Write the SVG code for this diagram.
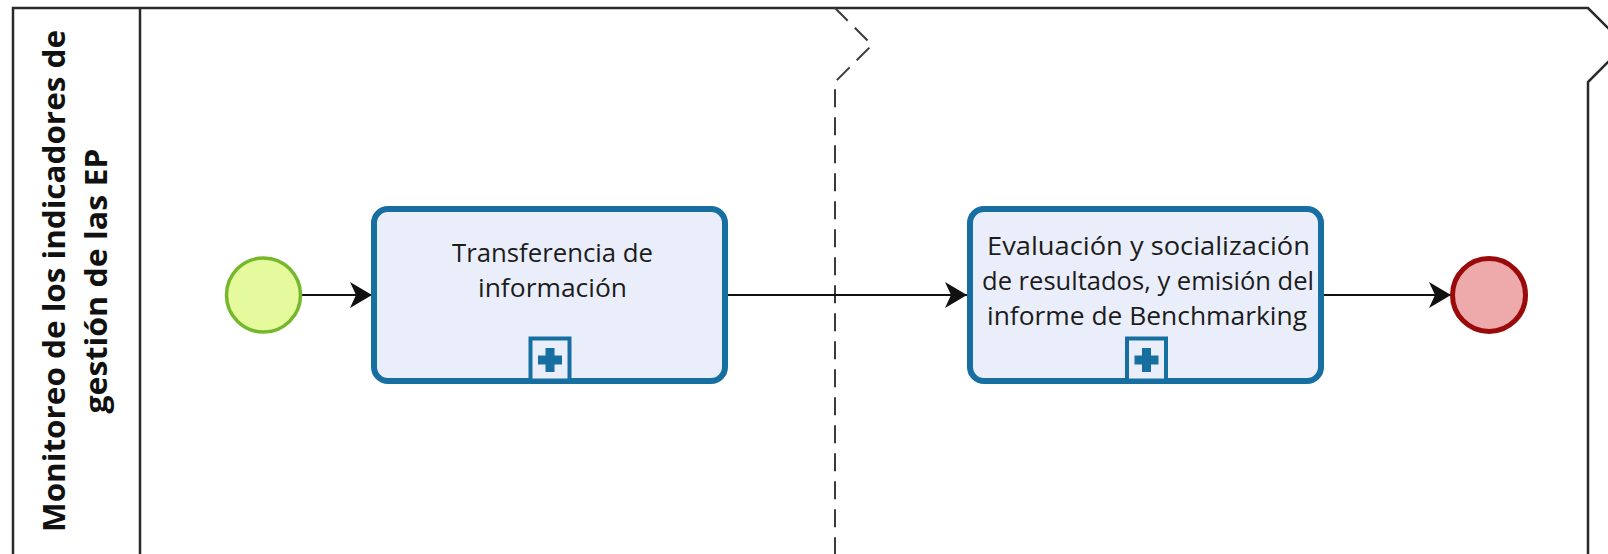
<svg xmlns="http://www.w3.org/2000/svg" width="1608" height="554" viewBox="0 0 1608 554">
<style>
.pool{fill:none;stroke:#2a2a2a;stroke-width:2.5}
.phase{fill:none;stroke:#3a3a3a;stroke-width:2;stroke-dasharray:18 10}
.task{fill:#eaeefb;stroke:#166fa0;stroke-width:6}
.sq{fill:#eaeefb;stroke:#166fa0;stroke-width:4}
.plus{fill:#166fa0}
.lbl{font-family:"Open Sans","Noto Sans",sans-serif;font-size:26px;fill:#1c1c1c;text-anchor:middle}
.lane{font-family:"Open Sans","Noto Sans",sans-serif;font-size:30px;font-weight:700;fill:#111;text-anchor:middle}
.flow{stroke:#111;stroke-width:2;fill:none;marker-end:url(#arr)}
</style>
<defs>
<marker id="arr" markerUnits="userSpaceOnUse" viewBox="0 0 22 28" refX="22" refY="14" markerWidth="22" markerHeight="28" orient="auto">
<path d="M0,1 L22,14 L0,27 L6,14 Z" fill="#111"/>
</marker>
</defs>
<rect x="0" y="0" width="1608" height="554" fill="#fff"/>
<g id="pool">
<path class="pool" d="M13,560 L13,8 L1588,8 L1625,45 L1588,82 L1588,560"/>
<line class="pool" x1="140" y1="8" x2="140" y2="560"/>
<path class="phase" d="M835,8 L872,45 L835,82 L835,560"/>
<g transform="translate(65,281) rotate(-90)">
<text class="lane" x="0" y="0" textLength="502" lengthAdjust="spacingAndGlyphs">Monitoreo de los indicadores de</text>
<text class="lane" x="0" y="42" textLength="265" lengthAdjust="spacingAndGlyphs">gestión de las EP</text>
</g>
</g>
<g id="connectors">
<line class="flow" x1="301" y1="295" x2="372" y2="295"/>
<line class="flow" x1="728" y1="295" x2="967" y2="295"/>
<line class="flow" x1="1324" y1="295" x2="1451" y2="295"/>
</g>
<g id="start">
<circle cx="263.5" cy="295" r="37" fill="#e4fa9c" stroke="#76b72d" stroke-width="3.5"/>
</g>
<g id="task1">
<rect class="task" x="374" y="209" width="351" height="172" rx="14"/>
<text class="lbl" x="552.5" y="262" textLength="201" lengthAdjust="spacingAndGlyphs">Transferencia de</text>
<text class="lbl" x="552.5" y="297" textLength="149" lengthAdjust="spacingAndGlyphs">información</text>
<rect class="sq" x="530.5" y="338.5" width="39" height="42"/>
<rect class="plus" x="538" y="355.5" width="24" height="9"/>
<rect class="plus" x="545.5" y="348" width="9" height="24"/>
</g>
<g id="task2">
<rect class="task" x="970" y="209" width="351" height="172" rx="14"/>
<text class="lbl" x="1148.5" y="255" textLength="323" lengthAdjust="spacingAndGlyphs">Evaluación y socialización</text>
<text class="lbl" x="1148" y="290" textLength="332" lengthAdjust="spacingAndGlyphs">de resultados, y emisión del</text>
<text class="lbl" x="1147" y="325" textLength="320" lengthAdjust="spacingAndGlyphs">informe de Benchmarking</text>
<rect class="sq" x="1127" y="338.5" width="39" height="42"/>
<rect class="plus" x="1134.5" y="355.5" width="24" height="9"/>
<rect class="plus" x="1142" y="348" width="9" height="24"/>
</g>
<g id="end">
<circle cx="1489" cy="295" r="36.5" fill="#eea9aa" stroke="#9b0a0a" stroke-width="5"/>
</g>
</svg>
